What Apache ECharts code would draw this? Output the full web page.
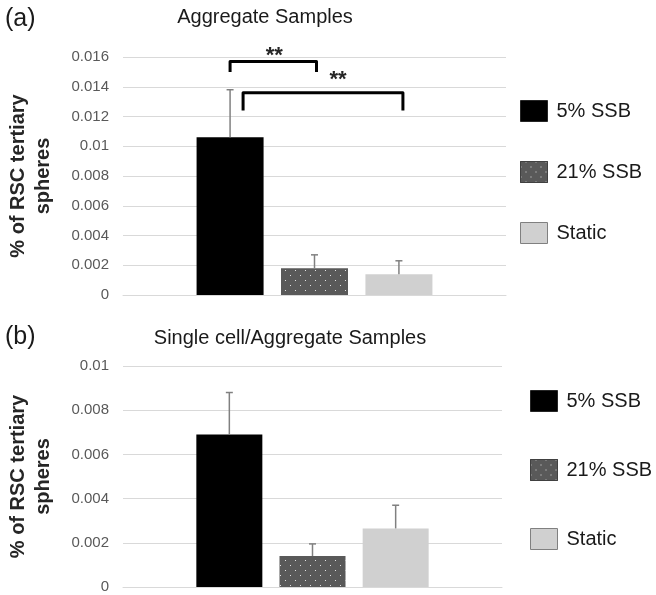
<!DOCTYPE html>
<html>
<head>
<meta charset="utf-8">
<script src="https://cdn.jsdelivr.net/npm/echarts@6/dist/echarts.min.js"></script>
<style>
  html, body { margin: 0; padding: 0; background: #fff; }
  #chart { width: 656px; height: 595px; }
</style>
</head>
<body>
<div id="chart"></div>
<script>
(function () {
  // groups (one bar per series, Excel-style single category)
  var seriesNames = ['5% SSB', '21% SSB', 'Static'];

  // (a) Aggregate samples: mean and +error
  var aggMeans = [0.0106, 0.0018, 0.0014];
  var aggErrors = [0.0032, 0.0009, 0.0009];

  // (b) Single cell / aggregate samples
  var singleMeans = [0.0069, 0.0014, 0.00265];
  var singleErrors = [0.0019, 0.00055, 0.00105];

  // significance brackets on panel (a): [from, to] series, top and leg heights
  var bracketPairs = [[0, 1], [0, 2]];
  var bracketTops = [0.0157, 0.0136];
  var bracketLegs = [0.0150, 0.0124];
  var bracketLabels = ['**', '**'];

  var yTicksA = { min: 0, max: 0.016, interval: 0.002 };
  var yTicksB = { min: 0, max: 0.01, interval: 0.002 };

  var FONT = 'Arial, "Liberation Sans", sans-serif';
  var GRID_LINE = '#d9d9d9';

  var dotted = {
    symbol: 'rect',
    symbolSize: 1,
    color: '#e2e2e2',
    dashArrayX: [[1, 9], [0, 5, 1, 4]],
    dashArrayY: [1, 4]
  };
  var barStyles = [
    { color: '#000000' },
    { color: '#595959', decal: dotted },
    { color: '#d0d0d0' }
  ];
  var legendBorders = ['#262626', '#404040', '#808080'];

  var chart = echarts.init(document.getElementById('chart'));

  function yAxis(gridIndex, ticks) {
    return {
      type: 'value',
      gridIndex: gridIndex,
      min: ticks.min,
      max: ticks.max,
      interval: ticks.interval,
      axisLine: { show: false },
      axisTick: { show: false },
      axisLabel: { fontSize: 15, color: '#595959', margin: 14, fontFamily: FONT },
      splitLine: { lineStyle: { color: GRID_LINE, width: 1 } },
      name: '% of RSC tertiary\nspheres',
      nameLocation: 'middle',
      nameGap: 67,
      nameTextStyle: { fontSize: 20, fontWeight: 'bold', color: '#262626', lineHeight: 25, fontFamily: FONT }
    };
  }

  function xAxis(gridIndex) {
    return {
      type: 'category',
      gridIndex: gridIndex,
      data: [''],
      axisLine: { lineStyle: { color: GRID_LINE } },
      axisTick: { show: false },
      axisLabel: { show: false }
    };
  }

  function legend(left, top, gap) {
    return {
      orient: 'vertical',
      left: left,
      top: top,
      padding: 0,
      itemWidth: 27,
      itemHeight: 21,
      itemGap: gap,
      icon: 'rect',
      selectedMode: false,
      textStyle: { fontSize: 20, color: '#1a1a1a', fontFamily: FONT, padding: [0, 0, 0, 4] },
      data: seriesNames.map(function (n, i) {
        return { name: n, itemStyle: { borderColor: legendBorders[i], borderWidth: 1 } };
      })
    };
  }

  var series = [];
  [aggMeans, singleMeans].forEach(function (means, g) {
    means.forEach(function (v, i) {
      series.push({
        type: 'bar',
        name: seriesNames[i],
        xAxisIndex: g,
        yAxisIndex: g,
        data: [v],
        barWidth: g === 0 ? 67 : 66,
        barGap: '26%',
        silent: true,
        itemStyle: barStyles[i]
      });
    });
  });

  chart.setOption({
    animation: false,
    title: [
      { text: '(a)', left: 5, top: 7, padding: 0, textStyle: { fontSize: 25, fontWeight: 'normal', color: '#1a1a1a', fontFamily: FONT } },
      { text: 'Aggregate Samples', left: 265, top: 7, textAlign: 'center', padding: 0, textStyle: { fontSize: 20, fontWeight: 'normal', color: '#1a1a1a', fontFamily: FONT } },
      { text: '(b)', left: 5, top: 325, padding: 0, textStyle: { fontSize: 25, fontWeight: 'normal', color: '#1a1a1a', fontFamily: FONT } },
      { text: 'Single cell/Aggregate Samples', left: 290, top: 328, textAlign: 'center', padding: 0, textStyle: { fontSize: 20, fontWeight: 'normal', color: '#1a1a1a', fontFamily: FONT } }
    ],
    legend: [legend(520, 100, 39), legend(530, 390, 47)],
    grid: [
      { left: 123, right: 150, top: 57, bottom: 300, containLabel: false, outerBoundsMode: 'none' },
      { left: 123, right: 154, top: 366, bottom: 8, containLabel: false, outerBoundsMode: 'none' }
    ],
    xAxis: [xAxis(0), xAxis(1)],
    yAxis: [yAxis(0, yTicksA), yAxis(1, yTicksB)],
    series: series
  });

  // error bars + brackets, placed from the bar layout the library computed
  var model = chart.getModel();
  function barLayout(idx) {
    return model.getSeriesByIndex(idx).getData().getItemLayout(0);
  }
  function barCenter(idx) {
    var l = barLayout(idx);
    return l.x + l.width / 2;
  }
  function yPx(axis, v) {
    return chart.convertToPixel({ yAxisIndex: axis }, v);
  }

  var graphics = [];
  [[aggMeans, aggErrors], [singleMeans, singleErrors]].forEach(function (pair, g) {
    pair[0].forEach(function (m, i) {
      var cx = barCenter(g * 3 + i);
      var y0 = yPx(g, m);
      var y1 = yPx(g, m + pair[1][i]);
      var st = { stroke: '#808080', lineWidth: 1.5 };
      graphics.push({ type: 'line', z: 100, shape: { x1: cx, y1: y0, x2: cx, y2: y1 }, style: st });
      graphics.push({ type: 'line', z: 100, shape: { x1: cx - 3.5, y1: y1, x2: cx + 3.5, y2: y1 }, style: st });
    });
  });

  var bracketInsets = [[0, 2], [13, 4]];
  var labelShift = [[1, -6], [15, -13]];
  bracketPairs.forEach(function (p, k) {
    var xl = barCenter(p[0]) + bracketInsets[k][0];
    var xr = barCenter(p[1]) + bracketInsets[k][1];
    var yt = yPx(0, bracketTops[k]);
    var yl = yPx(0, bracketLegs[k]);
    graphics.push({
      type: 'polyline', z: 100,
      shape: { points: [[xl, yl], [xl, yt], [xr, yt], [xr, yl]] },
      style: { stroke: '#000', lineWidth: 3, lineJoin: 'round', fill: null }
    });
    graphics.push({
      type: 'text', z: 100,
      x: (xl + xr) / 2 + labelShift[k][0],
      y: yt + labelShift[k][1],
      style: { text: bracketLabels[k], font: 'bold 22px ' + FONT, fill: '#262626', align: 'center', verticalAlign: 'middle' }
    });
  });

  chart.setOption({ graphic: graphics });
})();
</script>
</body>
</html>
